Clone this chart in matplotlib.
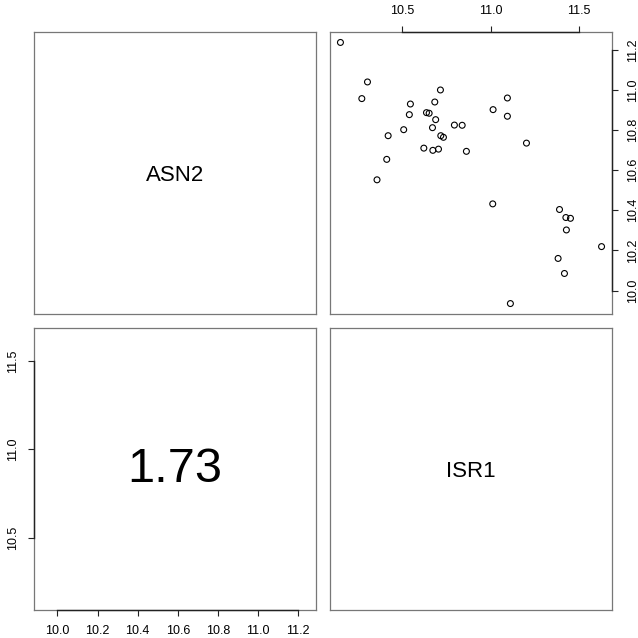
# Pairs plot of ASN2 vs ISR1 (R pairs() style)
import numpy as np
import matplotlib.pyplot as plt

plt.rcParams['font.family'] = ['Liberation Sans', 'DejaVu Sans']

names = ["ASN2", "ISR1"]
lower_text = "1.73"

# expression values, one entry per sample
isr1 = [10.149, 10.302, 10.270, 10.715, 10.545, 10.683, 10.539, 10.636, 10.651,
        10.688, 10.507, 10.670, 10.794, 10.838, 10.419, 10.717, 10.732, 10.621,
        10.672, 10.704, 10.862, 10.411, 10.356, 11.094, 11.013, 11.094, 11.202,
        11.011, 11.389, 11.425, 11.451, 11.428, 11.627, 11.381, 11.417, 11.111]
asn2 = [11.237, 11.040, 10.957, 11.000, 10.930, 10.940, 10.877, 10.887, 10.884,
        10.852, 10.802, 10.812, 10.825, 10.824, 10.772, 10.772, 10.764, 10.710,
        10.699, 10.705, 10.694, 10.654, 10.552, 10.960, 10.902, 10.869, 10.735,
        10.432, 10.404, 10.364, 10.360, 10.302, 10.219, 10.160, 10.085, 9.935]

isr1_ticks = [10.5, 11.0, 11.5]
asn2_ticks = [10.0, 10.2, 10.4, 10.6, 10.8, 11.0, 11.2]


def padded(v, frac=0.04):
    lo, hi = min(v), max(v)
    d = (hi - lo) * frac
    return lo - d, hi + d


isr1_lim = padded(isr1)
asn2_lim = padded(asn2)

W = 638
fig = plt.figure(figsize=(6.38, 6.38), dpi=100)


def panel(x0, y0, size=282):
    ax = fig.add_axes([x0 / W, (W - y0 - size) / W, size / W, size / W])
    for s in ax.spines.values():
        s.set_color('#777777')
        s.set_linewidth(0.9)
    ax.set_xticks([])
    ax.set_yticks([])
    return ax


def axis_line(ax, which, ticks):
    # R draws a darker axis line spanning first to last tick
    kw = dict(color='#222222', lw=1.0, clip_on=False, zorder=5)
    if which in ('top', 'bottom'):
        y = ax.get_ylim()[1] if which == 'top' else ax.get_ylim()[0]
        ax.plot([ticks[0], ticks[-1]], [y, y], **kw)
    else:
        x = ax.get_xlim()[1] if which == 'right' else ax.get_xlim()[0]
        ax.plot([x, x], [ticks[0], ticks[-1]], **kw)


tick_kw = dict(length=4, width=0.8, color='#222222', pad=7, labelsize=9, direction='out')

# top-left: diagonal label
ax1 = panel(34, 32)
ax1.text(0.5, 0.49, names[0], transform=ax1.transAxes, ha='center', va='center', fontsize=16)

# top-right: scatter, x = ISR1, y = ASN2
ax2 = panel(330, 32)
ax2.scatter(isr1, asn2, s=18, facecolors='none', edgecolors='black', linewidths=0.8)
ax2.set_xlim(isr1_lim)
ax2.set_ylim(asn2_lim)
ax2.xaxis.tick_top()
ax2.yaxis.tick_right()
ax2.set_xticks(isr1_ticks)
ax2.set_xticklabels([f"{t:.1f}" for t in isr1_ticks])
ax2.set_yticks(asn2_ticks)
ax2.set_yticklabels([f"{t:.1f}" for t in asn2_ticks], rotation=90, va='center')
ax2.tick_params(axis='both', **tick_kw)
axis_line(ax2, 'top', isr1_ticks)
axis_line(ax2, 'right', asn2_ticks)

# bottom-left: numeric summary, x = ASN2, y = ISR1
ax3 = panel(34, 328)
ax3.set_xlim(asn2_lim)
ax3.set_ylim(isr1_lim)
ax3.set_xticks(asn2_ticks)
ax3.set_xticklabels([f"{t:.1f}" for t in asn2_ticks])
ax3.set_yticks(isr1_ticks)
ax3.set_yticklabels([f"{t:.1f}" for t in isr1_ticks], rotation=90, va='center')
ax3.tick_params(axis='both', **tick_kw)
ax3.text(0.5, 0.5, lower_text, transform=ax3.transAxes, ha='center', va='center', fontsize=35)
axis_line(ax3, 'bottom', asn2_ticks)
axis_line(ax3, 'left', isr1_ticks)

# bottom-right: diagonal label
ax4 = panel(330, 328)
ax4.text(0.5, 0.49, names[1], transform=ax4.transAxes, ha='center', va='center', fontsize=16)

fig.savefig("out.png", dpi=100)
